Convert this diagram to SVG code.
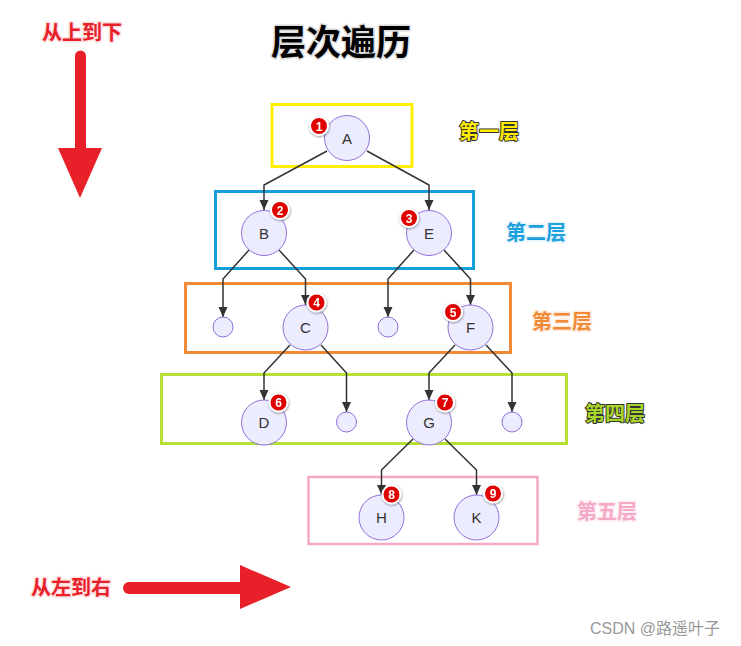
<svg xmlns="http://www.w3.org/2000/svg" width="741" height="646" viewBox="0 0 741 646">
<style>
.node circle{fill:#ECECFF;stroke:#9370DB;stroke-width:1}
.node text{font-family:"Liberation Sans","DejaVu Sans",sans-serif;font-size:15px;fill:#333;text-anchor:middle}
.edge{fill:none;stroke:#333;stroke-width:1.5}
.badge circle{fill:#e00000;stroke:#fff;stroke-width:2}
.badge text{font-family:"Liberation Sans",sans-serif;font-weight:bold;font-size:12px;fill:#fff;text-anchor:middle}
.lbl{font-family:"Noto Sans CJK SC",sans-serif;font-weight:bold;font-size:20px;paint-order:stroke;stroke-linejoin:round}
.zh{font-family:"Noto Sans CJK SC",sans-serif;font-weight:bold;paint-order:stroke;stroke-linejoin:round}
.box{fill:none}
</style>
<defs>
<marker id="arr" markerUnits="userSpaceOnUse" markerWidth="10" markerHeight="10" refX="10" refY="5" orient="auto">
<path d="M0,0.5 L10,5 L0,9.5 z" fill="#333"/>
</marker>
<filter id="sh" x="-50%" y="-50%" width="200%" height="200%">
<feDropShadow dx="0.5" dy="1" stdDeviation="1" flood-color="#000" flood-opacity="0.45"/>
</filter>
</defs>
<rect width="741" height="646" fill="#fff"/>

<!-- title and direction hints -->
<g id="title"><text class="zh" x="341" y="55" font-size="35" text-anchor="middle" fill="#000" stroke="#ddd" stroke-width="3">层次遍历</text></g>
<g id="topdown">
<text class="zh" x="82" y="40" font-size="20" text-anchor="middle" fill="#e8202a" stroke="#fde0e0" stroke-width="3">从上到下</text>
<line x1="80.5" y1="56" x2="80.5" y2="152" stroke="#e8202a" stroke-width="11" stroke-linecap="round"/>
<polygon points="58,148 102,148 80,198" fill="#e8202a"/>
</g>
<g id="leftright">
<text class="zh" x="71" y="595" font-size="20" text-anchor="middle" fill="#e8202a" stroke="#fde0e0" stroke-width="3">从左到右</text>
<line x1="129" y1="588" x2="245" y2="588" stroke="#e8202a" stroke-width="12" stroke-linecap="round"/>
<polygon points="240,565 240,609 291,587" fill="#e8202a"/>
</g>

<!-- layer boxes -->
<g id="layer1"><rect class="box" x="272" y="104.5" width="140" height="62" stroke="#fff000" stroke-width="3"/>
<text class="lbl" x="489" y="139" text-anchor="middle" fill="#ffec00" stroke="#333" stroke-width="2">第一层</text></g>
<g id="layer2"><rect class="box" x="215.5" y="191.5" width="258" height="77" stroke="#179fdc" stroke-width="3"/>
<text class="lbl" x="536" y="240" text-anchor="middle" fill="#1ba0df" stroke="#e6f4fb" stroke-width="3">第二层</text></g>
<g id="layer3"><rect class="box" x="185.5" y="283.5" width="325" height="69" stroke="#f08a36" stroke-width="3"/>
<text class="lbl" x="562" y="329" text-anchor="middle" fill="#f08a36" stroke="#fdecdd" stroke-width="3">第三层</text></g>
<g id="layer4"><rect class="box" x="161.5" y="374.5" width="405" height="69" stroke="#b6e034" stroke-width="3"/>
<text class="lbl" x="615" y="421" text-anchor="middle" fill="#a8d626" stroke="#333" stroke-width="2">第四层</text></g>
<g id="layer5"><rect class="box" x="308.5" y="477" width="229" height="67" stroke="#f5a8c6" stroke-width="2.5"/>
<text class="lbl" x="607" y="519" text-anchor="middle" fill="#f6a9c6" stroke="#fdeef4" stroke-width="3">第五层</text></g>

<!-- connectors -->
<g id="edges">
<path class="edge" marker-end="url(#arr)" d="M327,151 L264,185 L264,210"/>
<path class="edge" marker-end="url(#arr)" d="M367,151 L429,185 L429,210"/>
<path class="edge" marker-end="url(#arr)" d="M249,250 L223,279 L223,317"/>
<path class="edge" marker-end="url(#arr)" d="M279,250 L305.5,279 L305.5,305"/>
<path class="edge" marker-end="url(#arr)" d="M414,250 L388,279 L388,317"/>
<path class="edge" marker-end="url(#arr)" d="M444,250 L470.5,279 L470.5,305"/>
<path class="edge" marker-end="url(#arr)" d="M290,345 L264,373 L264,400"/>
<path class="edge" marker-end="url(#arr)" d="M321,345 L346.5,373 L346.5,412"/>
<path class="edge" marker-end="url(#arr)" d="M455,345 L429,373 L429,400"/>
<path class="edge" marker-end="url(#arr)" d="M486,345 L512,373 L512,412"/>
<path class="edge" marker-end="url(#arr)" d="M413,439 L381.5,470 L381.5,495"/>
<path class="edge" marker-end="url(#arr)" d="M445,439 L476.5,470 L476.5,495"/>
</g>

<!-- nodes -->
<g id="nA" class="node"><circle cx="347" cy="138" r="22.5"/><text x="347" y="143.5">A</text></g>
<g id="nB" class="node"><circle cx="264" cy="233" r="22.5"/><text x="264" y="238.5">B</text></g>
<g id="nE" class="node"><circle cx="429" cy="233" r="22.5"/><text x="429" y="238.5">E</text></g>
<g id="nS1" class="node"><circle cx="223" cy="327" r="10"/></g>
<g id="nC" class="node"><circle cx="305.5" cy="327.5" r="22.5"/><text x="305.5" y="333">C</text></g>
<g id="nS2" class="node"><circle cx="388" cy="327" r="10"/></g>
<g id="nF" class="node"><circle cx="470.5" cy="327.5" r="22.5"/><text x="470.5" y="333">F</text></g>
<g id="nD" class="node"><circle cx="264" cy="422.5" r="22.5"/><text x="264" y="428">D</text></g>
<g id="nS3" class="node"><circle cx="346.5" cy="422" r="10"/></g>
<g id="nG" class="node"><circle cx="429" cy="422.5" r="22.5"/><text x="429" y="428">G</text></g>
<g id="nS4" class="node"><circle cx="512" cy="422" r="10"/></g>
<g id="nH" class="node"><circle cx="381.5" cy="517.5" r="22.5"/><text x="381.5" y="523">H</text></g>
<g id="nK" class="node"><circle cx="476.5" cy="517.5" r="22.5"/><text x="476.5" y="523">K</text></g>

<!-- order badges -->
<g id="badges" filter="url(#sh)">
<g class="badge"><circle cx="319" cy="126" r="9"/><text x="319" y="130.5">1</text></g>
<g class="badge"><circle cx="280" cy="210" r="9"/><text x="280" y="214.5">2</text></g>
<g class="badge"><circle cx="409" cy="218" r="9"/><text x="409" y="222.5">3</text></g>
<g class="badge"><circle cx="316.5" cy="302.5" r="9"/><text x="316.5" y="307">4</text></g>
<g class="badge"><circle cx="453" cy="312" r="9"/><text x="453" y="316.5">5</text></g>
<g class="badge"><circle cx="278.5" cy="402.5" r="9"/><text x="278.5" y="407">6</text></g>
<g class="badge"><circle cx="445" cy="402.5" r="9"/><text x="445" y="407">7</text></g>
<g class="badge"><circle cx="391.5" cy="494.5" r="9"/><text x="391.5" y="499">8</text></g>
<g class="badge"><circle cx="493" cy="493.5" r="9"/><text x="493" y="498">9</text></g>
</g>

<text x="590" y="634" font-family="'Liberation Sans','Noto Sans CJK SC',sans-serif" font-size="16" fill="#999">CSDN @路遥叶子</text>
</svg>
